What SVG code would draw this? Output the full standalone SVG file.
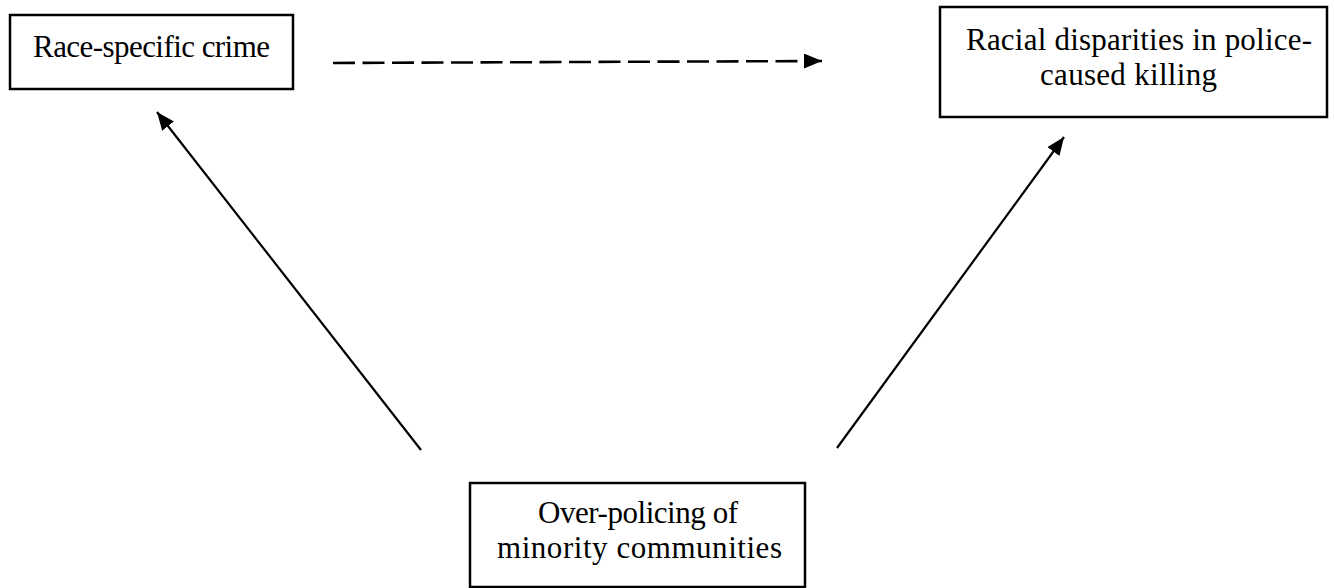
<svg xmlns="http://www.w3.org/2000/svg" width="1334" height="588" viewBox="0 0 1334 588">
  <style>
    .box { fill: #ffffff; stroke: #000000; stroke-width: 2.5; }
    .lbl { font-family: "Liberation Serif", "Times New Roman", serif; font-size: 31px; fill: #000000; }
    .edge { stroke: #000000; stroke-width: 2.2; fill: none; }
    .dash { stroke-width: 2.6; stroke-dasharray: 22 7.5; }
  </style>
  <defs>
    <marker id="arrow" markerUnits="userSpaceOnUse" markerWidth="20" markerHeight="17" refX="18" refY="7.5" orient="auto">
      <path d="M0,0 L18,7.5 L0,15 z" fill="#000000"/>
    </marker>
  </defs>
  <rect width="1334" height="588" fill="#ffffff"/>
  <g id="connectors">
    <line class="edge dash" x1="333" y1="63" x2="822" y2="61" marker-end="url(#arrow)"/>
    <line class="edge" x1="421" y1="450" x2="157" y2="112" marker-end="url(#arrow)"/>
    <line class="edge" x1="837" y1="448" x2="1064" y2="137" marker-end="url(#arrow)"/>
  </g>
  <g id="node-race-specific-crime">
    <rect class="box" x="10" y="15" width="283" height="74"/>
    <text class="lbl" x="33" y="57" textLength="237">Race-specific crime</text>
  </g>
  <g id="node-racial-disparities">
    <rect class="box" x="940" y="7" width="387" height="110"/>
    <text class="lbl" x="966" y="50" textLength="346">Racial disparities in police-</text>
    <text class="lbl" x="1040" y="85" textLength="177">caused killing</text>
  </g>
  <g id="node-over-policing">
    <rect class="box" x="470" y="483" width="335" height="104"/>
    <text class="lbl" x="538" y="523" textLength="200">Over-policing of</text>
    <text class="lbl" x="497" y="558" textLength="285">minority communities</text>
  </g>
</svg>
